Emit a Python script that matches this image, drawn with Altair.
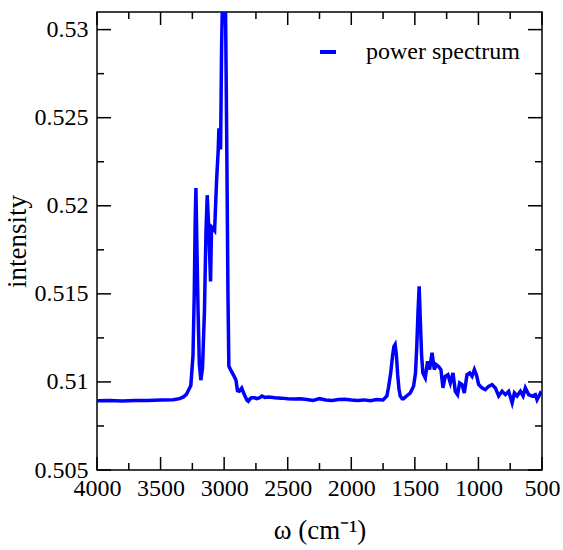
import altair as alt
import pandas as pd

# ---- data ----
wavenumber = [4000, 3900, 3800, 3700, 3600, 3500, 3400, 3350, 3320, 3296, 3262, 3245, 3235, 3228,
              3222, 3215, 3205, 3195, 3183, 3170, 3155, 3143, 3133, 3120, 3107, 3099, 3085, 3075,
              3059, 3047, 3041, 3034, 3028, 3020, 3010, 3000, 2990, 2980, 2970, 2963, 2950, 2935,
              2920, 2907, 2895, 2881, 2862, 2848, 2836, 2820, 2810, 2795, 2784, 2760, 2743, 2720,
              2703, 2680, 2650, 2600, 2550, 2500, 2450, 2400, 2350, 2300, 2250, 2200, 2150, 2100,
              2050, 2000, 1950, 1900, 1850, 1800, 1750, 1720, 1707, 1690, 1675, 1665, 1655, 1645,
              1635, 1625, 1615, 1600, 1589, 1565, 1537, 1510, 1495, 1485, 1475, 1466, 1457, 1447,
              1437, 1418, 1400, 1384, 1365, 1347, 1332, 1314, 1295, 1279, 1261, 1240, 1221, 1200,
              1182, 1164, 1148, 1129, 1111, 1090, 1069, 1050, 1032, 1016, 998, 972, 946, 920, 893,
              867, 841, 814, 788, 762, 735, 717, 696, 670, 649, 631, 605, 578, 552, 539, 512, 500]
intensity = [0.50893, 0.50895, 0.50892, 0.50895, 0.50894, 0.50897, 0.50899, 0.50905, 0.50915,
             0.5093, 0.5098, 0.5115, 0.5150, 0.5190, 0.5210, 0.5180, 0.5140, 0.5110, 0.5101,
             0.5108, 0.5140, 0.5185, 0.5206, 0.5185, 0.5157, 0.5188, 0.5187, 0.5186, 0.5215,
             0.5231, 0.5244, 0.5236, 0.5232, 0.5290, 0.5330, 0.5345, 0.5320, 0.5240, 0.5150,
             0.5109, 0.5107, 0.5105, 0.5103, 0.5101, 0.5095, 0.50947, 0.50965, 0.5094, 0.5092,
             0.50895, 0.5089, 0.50905, 0.5091, 0.5091, 0.50905, 0.5091, 0.5092, 0.50912, 0.50915,
             0.5091, 0.50908, 0.50905, 0.50903, 0.50905, 0.5090, 0.50895, 0.50905, 0.50898,
             0.50895, 0.5090, 0.50902, 0.50897, 0.50895, 0.50898, 0.50893, 0.5090, 0.50898,
             0.5092, 0.5097, 0.5105, 0.5115, 0.5120, 0.51212, 0.5115, 0.5104, 0.5096, 0.5092,
             0.50905, 0.50905, 0.5092, 0.50937, 0.50975, 0.5105, 0.5120, 0.5140, 0.51543, 0.5135,
             0.5115, 0.51051, 0.51023, 0.51117, 0.5107, 0.51165, 0.5107, 0.51098, 0.51088,
             0.5107, 0.50966, 0.51032, 0.51041, 0.50994, 0.51051, 0.50947, 0.50928, 0.50994,
             0.50985, 0.50937, 0.51041, 0.51051, 0.51032, 0.5107, 0.51041, 0.50985, 0.50966,
             0.50956, 0.50975, 0.50985, 0.50966, 0.5092, 0.50947, 0.50928, 0.50947, 0.50881,
             0.50937, 0.5092, 0.50947, 0.5092, 0.50966, 0.50928, 0.5092, 0.50928, 0.50899,
             0.50937, 0.5093]
series_name = "power spectrum"

x_major = [500, 1000, 1500, 2000, 2500, 3000, 3500, 4000]
x_minor = [750, 1250, 1750, 2250, 2750, 3250, 3750]
y_major = [0.505, 0.51, 0.515, 0.52, 0.525, 0.53]
y_minor = [0.5075, 0.5125, 0.5175, 0.5225, 0.5275]

W, H = 445, 458
FONT = "Liberation Serif"

df = pd.DataFrame({"w": wavenumber, "I": intensity, "series": series_name})

xscale = alt.Scale(domain=[500, 4000], reverse=True, nice=False, zero=False)
yscale = alt.Scale(domain=[0.505, 0.531], nice=False, zero=False)

xaxis = alt.Axis(values=x_major, format="d", title="ω (cm⁻¹)", ticks=False, tickSize=0,
                 domain=False, grid=False, labelFont=FONT, labelFontSize=24, labelColor="black",
                 labelPadding=6, labelFlush=False, labelOverlap=False,
                 titleFont=FONT, titleFontSize=27, titleFontWeight="normal",
                 titleColor="black", titlePadding=17)
yaxis = alt.Axis(values=y_major, format=".3~f", title="intensity", ticks=False, tickSize=0,
                 domain=False, grid=False, labelFont=FONT, labelFontSize=24, labelColor="black",
                 labelPadding=9, labelFlush=False, labelOverlap=False,
                 titleFont=FONT, titleFontSize=27, titleFontWeight="normal",
                 titleColor="black", titlePadding=3)

X = alt.X("w:Q", scale=xscale, axis=xaxis)
Y = alt.Y("I:Q", scale=yscale, axis=yaxis)

line = alt.Chart(df).mark_line(strokeWidth=3.5, clip=True).encode(
    x=X, y=Y,
    color=alt.Color("series:N", scale=alt.Scale(range=["#0000ff"]),
                    legend=alt.Legend(title=None, orient="none", legendX=219, legendY=28,
                                      symbolType="stroke", symbolSize=256, symbolStrokeWidth=4,
                                      labelFont=FONT, labelFontSize=24, labelColor="black",
                                      labelOffset=26, padding=0, rowPadding=0)),
)


def xticks(vals, length, top):
    d = pd.DataFrame({"w": vals})
    y0, y1 = (0, length) if top else (H, H - length)
    return alt.Chart(d).mark_rule(color="black", strokeWidth=1.5).encode(
        x=X, y=alt.value(y0), y2=alt.value(y1))


def yticks(vals, length, right):
    d = pd.DataFrame({"I": vals})
    x0, x1 = (W, W - length) if right else (0, length)
    return alt.Chart(d).mark_rule(color="black", strokeWidth=1.5).encode(
        y=Y, x=alt.value(x0), x2=alt.value(x1))


layers = [
    xticks(x_major, 13, False), xticks(x_minor, 7, False),
    xticks(x_major, 13, True), xticks(x_minor, 7, True),
    yticks(y_major, 14, False), yticks(y_minor, 7, False),
    yticks(y_major, 14, True), yticks(y_minor, 7, True),
    line,
]

chart = alt.layer(*layers).properties(
    width=W, height=H,
    autosize=alt.AutoSizeParams(type="none"),
    padding={"left": 97, "top": 12, "right": 21, "bottom": 80},
    background="white",
).configure_view(stroke="black", strokeWidth=1.5)

chart.save("out.html", embed_options={"renderer": "svg", "actions": False})
